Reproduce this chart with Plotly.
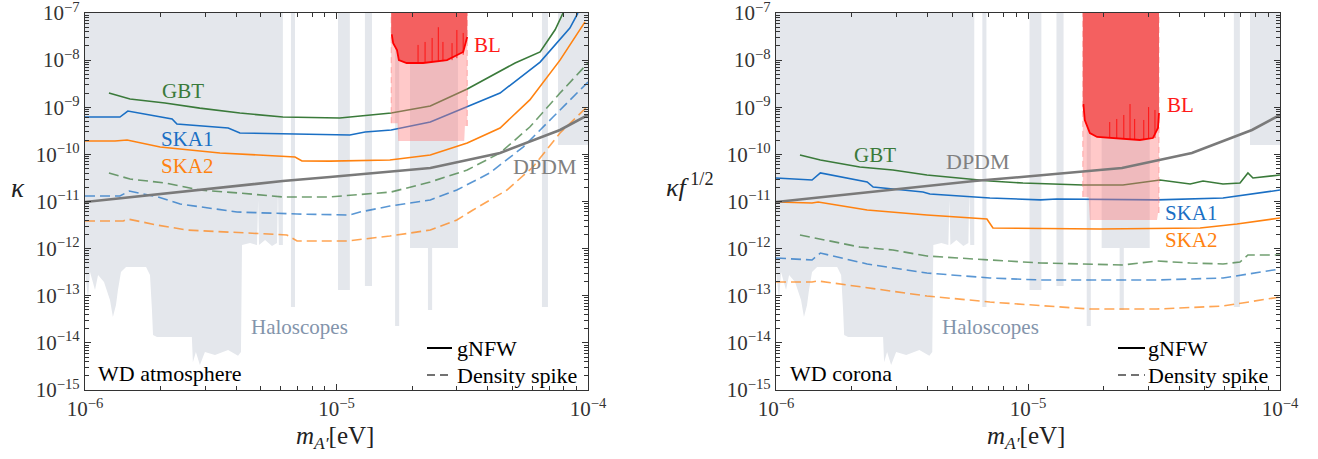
import plotly.graph_objects as go

W, H = 1318, 459
Y_TOP = 1e-7

# ---------------- data: left panel (WD atmosphere) ----------------
gbt_L_x = [1.245e-6, 1.51e-6, 2.08e-6, 2.86e-6, 4.13e-6, 6.12e-6, 1.03e-5, 1.65e-5, 2.36e-5, 3.31e-5, 5.13e-5, 6.45e-5, 7.4e-5, 7.96e-5]
gbt_L_y = [2.0e-9, 1.5e-9, 1.23e-9, 9.6e-10, 7.55e-10, 6.2e-10, 5.9e-10, 7.55e-10, 1.06e-9, 2.44e-9, 8.7e-9, 1.49e-8, 4.4e-8, 1.0e-7]
ska1_L_x = [1.0e-6, 1.377e-6, 1.48e-6, 2.22e-6, 2.32e-6, 3.71e-6, 4.13e-6, 9.42e-6, 1.13e-5, 1.3e-5, 1.65e-5, 2.36e-5, 3.31e-5, 4.47e-5, 6.45e-5, 8.47e-5, 9.12e-5]
ska1_L_y = [6.2e-10, 6.2e-10, 8.3e-10, 5.64e-10, 4.42e-10, 3.63e-10, 2.84e-10, 2.58e-10, 2.58e-10, 2.98e-10, 3.29e-10, 4.86e-10, 1.01e-9, 2.0e-9, 9.1e-9, 4.8e-8, 1.0e-7]
ska2_L_x = [1.0e-6, 1.316e-6, 1.47e-6, 1.99e-6, 3.44e-6, 6.84e-6, 7.29e-6, 9.42e-6, 1.63e-5, 2.36e-5, 3.31e-5, 4.47e-5, 5.87e-5, 7.74e-5, 9.73e-5]
ska2_L_y = [1.92e-10, 1.92e-10, 2.02e-10, 1.43e-10, 1.07e-10, 8.8e-11, 7.24e-11, 7.2e-11, 7.6e-11, 9.7e-11, 1.74e-10, 3.63e-10, 1.43e-9, 1.0e-8, 6.5e-8]
gbt_sp_L_x = [1.245e-6, 1.51e-6, 2.08e-6, 2.86e-6, 4.13e-6, 6.12e-6, 9.42e-6, 1.65e-5, 2.36e-5, 3.31e-5, 4.47e-5, 5.87e-5, 7.74e-5, 1.0e-4]
gbt_sp_L_y = [4.03e-11, 3.0e-11, 2.47e-11, 1.75e-11, 1.51e-11, 1.25e-11, 1.25e-11, 1.59e-11, 2.6e-11, 4.66e-11, 1.07e-10, 3.81e-10, 2.0e-9, 8.7e-9]
ska1_sp_L_x = [1.0e-6, 1.377e-6, 1.5e-6, 1.95e-6, 2.39e-6, 4.02e-6, 6.97e-6, 1.13e-5, 1.24e-5, 1.63e-5, 2.36e-5, 3.01e-5, 4.07e-5, 5.52e-5, 7.26e-5, 1.0e-4]
ska1_sp_L_y = [1.31e-11, 1.31e-11, 1.67e-11, 1.25e-11, 8.85e-12, 5.98e-12, 5.43e-12, 5.17e-12, 5.98e-12, 8.0e-12, 1.08e-11, 1.75e-11, 4.03e-11, 1.43e-10, 6.2e-10, 3.43e-9]
ska2_sp_L_x = [1.0e-6, 1.42e-6, 1.48e-6, 1.93e-6, 2.55e-6, 4.13e-6, 6.35e-6, 6.97e-6, 1.1e-5, 1.63e-5, 2.36e-5, 3.01e-5, 3.49e-5, 4.76e-5, 6.04e-5, 7.74e-5, 9.9e-5]
ska2_sp_L_y = [3.85e-12, 3.85e-12, 4.25e-12, 3.17e-12, 2.48e-12, 2.15e-12, 1.95e-12, 1.45e-12, 1.45e-12, 1.85e-12, 2.48e-12, 4.05e-12, 6.6e-12, 1.75e-11, 5.4e-11, 2.84e-10, 1.01e-9]

# DPDM (same in both panels)
dpdm_x = [1.0e-6, 6.12e-6, 9.42e-6, 2.36e-5, 4.47e-5, 7.74e-5, 1.0e-4]
dpdm_y = [9.75e-12, 2.72e-11, 3.31e-11, 5.14e-11, 1.07e-10, 3.29e-10, 6.85e-10]

# BL (left)
bl_L_x = [1.65e-5, 1.66e-5, 1.68e-5, 1.74e-5, 1.77e-5, 1.9e-5, 2.21e-5, 2.75e-5, 3.19e-5, 3.31e-5]
bl_L_y = [3.4e-8, 3.4e-8, 2.3e-8, 1.64e-8, 1.0e-8, 8.7e-9, 8.7e-9, 1.0e-8, 1.49e-8, 3.1e-8]
bl_pink_L_x = [1.65e-5, 1.75e-5, 1.76e-5, 3.22e-5, 3.24e-5, 3.31e-5]
bl_pink_L_y = [4.6e-10, 4.6e-10, 1.92e-10, 1.92e-10, 4.0e-10, 4.0e-10]
bl_spike_x = [2.11e-5, 2.25e-5, 2.4e-5, 2.54e-5, 2.65e-5, 2.88e-5, 3.01e-5, 3.19e-5]
bl_spike_L_base = [8.7e-9, 8.7e-9, 9.1e-9, 9.1e-9, 9.5e-9, 1.0e-8, 1.1e-8, 1.3e-8]
bl_spike_L_top = [2.1e-8, 2.43e-8, 2.95e-8, 5.0e-8, 2.43e-8, 2.3e-8, 4.36e-8, 3.77e-8]

# ---------------- data: right panel (WD corona) ----------------
gbt_R_x = [1.245e-6, 1.5e-6, 2.15e-6, 2.91e-6, 3.97e-6, 5.37e-6, 7.06e-6, 9.55e-6, 1.65e-5, 2.38e-5, 3.34e-5, 4.4e-5, 4.95e-5, 5.94e-5, 6.94e-5, 7.46e-5, 7.81e-5, 1.0e-4]
gbt_R_y = [9.7e-11, 7.6e-11, 5.4e-11, 4.66e-11, 3.65e-11, 3.15e-11, 2.72e-11, 2.47e-11, 2.24e-11, 2.24e-11, 2.86e-11, 2.35e-11, 2.72e-11, 2.35e-11, 2.47e-11, 4.03e-11, 3.15e-11, 3.65e-11]
ska1_R_x = [1.0e-6, 1.39e-6, 1.5e-6, 2.3e-6, 2.43e-6, 3.83e-6, 4.08e-6, 7.06e-6, 1.12e-5, 1.3e-5, 3.25e-5, 5.94e-5, 1.0e-4]
ska1_R_y = [3.15e-11, 2.86e-11, 4.03e-11, 2.6e-11, 2.03e-11, 1.59e-11, 1.44e-11, 1.19e-11, 1.08e-11, 1.13e-11, 1.08e-11, 1.19e-11, 1.75e-11]
ska2_R_x = [1.0e-6, 1.39e-6, 1.47e-6, 2.3e-6, 3.97e-6, 6.87e-6, 7.26e-6, 1.93e-5, 4.82e-5, 6.75e-5, 1.0e-4]
ska2_R_y = [9.75e-12, 9.3e-12, 9.75e-12, 6.6e-12, 5.17e-12, 4.25e-12, 2.74e-12, 2.61e-12, 2.74e-12, 3.33e-12, 4.47e-12]
gbt_sp_R_x = [1.245e-6, 1.5e-6, 2.15e-6, 2.91e-6, 3.97e-6, 7.06e-6, 1.12e-5, 2.38e-5, 3.25e-5, 4.4e-5, 5.94e-5, 6.94e-5, 7.46e-5, 1.0e-4]
gbt_sp_R_y = [1.95e-12, 1.6e-12, 1.08e-12, 9.35e-13, 6.97e-13, 5.74e-13, 4.96e-13, 4.5e-13, 5.46e-13, 4.96e-13, 4.72e-13, 5.2e-13, 7.33e-13, 7.33e-13]
ska1_sp_R_x = [1.0e-6, 1.39e-6, 1.5e-6, 2.3e-6, 3.97e-6, 7.06e-6, 1.12e-5, 3.25e-5, 5.94e-5, 1.0e-4]
ska1_sp_R_y = [6.32e-13, 5.74e-13, 8.07e-13, 4.72e-13, 3.04e-13, 2.38e-13, 2.16e-13, 2.16e-13, 2.38e-13, 3.7e-13]
ska2_sp_R_x = [1.0e-6, 1.39e-6, 1.47e-6, 2.3e-6, 3.97e-6, 7.06e-6, 1.76e-5, 3.25e-5, 5.94e-5, 1.0e-4]
ska2_sp_R_y = [1.96e-13, 1.96e-13, 2.06e-13, 1.46e-13, 9.88e-14, 7.37e-14, 5.23e-14, 5.23e-14, 6.05e-14, 9.4e-14]

bl_R_x = [1.65e-5, 1.66e-5, 1.68e-5, 1.76e-5, 1.88e-5, 2.25e-5, 2.78e-5, 3.13e-5, 3.28e-5, 3.31e-5]
bl_R_y = [1.12e-9, 1.12e-9, 5.36e-10, 2.84e-10, 2.34e-10, 2.22e-10, 2.02e-10, 2.22e-10, 3.63e-10, 7.55e-10]
bl_pink_R_x = [1.65e-5, 1.74e-5, 1.76e-5, 3.25e-5, 3.28e-5, 3.31e-5]
bl_pink_R_y = [1.25e-11, 1.25e-11, 4.05e-12, 4.05e-12, 5.7e-12, 5.7e-12]
bl_spike_R_base = [2.22e-10, 2.22e-10, 2.12e-10, 2.12e-10, 2.02e-10, 2.02e-10, 2.12e-10, 2.22e-10]
bl_spike_R_top = [4.86e-10, 5.64e-10, 6.85e-10, 1.17e-9, 5.64e-10, 5.37e-10, 1.01e-9, 8.75e-10]

# Haloscope exclusion pieces (lower edge; excluded up to the top), same in both panels
halo_A_x = [1.0e-6, 1.028e-6, 1.047e-6, 1.096e-6, 1.127e-6, 1.19e-6, 1.257e-6, 1.291e-6, 1.328e-6, 1.352e-6, 1.39e-6, 1.456e-6, 1.749e-6, 1.813e-6, 1.846e-6, 1.864e-6, 1.932e-6, 2.66e-6, 2.685e-6, 2.76e-6, 2.863e-6, 2.998e-6, 3.287e-6, 3.706e-6, 4.06e-6, 4.17e-6, 4.21e-6, 4.53e-6, 4.83e-6, 4.88e-6, 4.92e-6, 5.2e-6, 5.54e-6, 5.8e-6, 5.85e-6, 5.9e-6, 6.12e-6]
halo_A_y = [3.5e-13, 8.1e-14, 3.2e-13, 1.33e-13, 2.75e-13, 1.96e-13, 8.1e-14, 3.54e-14, 6.4e-14, 1.33e-13, 3.2e-13, 4.07e-13, 4.07e-13, 2.75e-13, 5.0e-14, 1.47e-14, 1.33e-14, 1.33e-14, 3.9e-15, 6.4e-15, 3.4e-15, 6.4e-15, 5.5e-15, 7.1e-15, 5.3e-15, 6.4e-15, 1.19e-12, 1.32e-12, 1.19e-12, 1.08e-11, 1.19e-12, 1.52e-12, 1.14e-12, 1.32e-12, 1.75e-11, 1.19e-12, 1.19e-12]
halo_B_x = [6.59e-6, 6.84e-6]
halo_B_y = [5.8e-14, 5.8e-14]
halo_C_x = [1.014e-5, 1.13e-5]
halo_C_y = [1.33e-13, 1.33e-13]
halo_D_x = [1.297e-5, 1.384e-5]
halo_D_y = [1.61e-13, 1.61e-13]
halo_E_x = [1.71e-5, 1.775e-5]
halo_E_y = [2.28e-14, 2.28e-14]
halo_F_x = [1.96e-5, 2.31e-5, 2.31e-5, 2.4e-5, 2.4e-5, 3.04e-5]
halo_F_y = [1.03e-12, 1.03e-12, 5.0e-14, 5.0e-14, 1.03e-12, 1.03e-12]
halo_G_x = [6.56e-5, 6.93e-5]
halo_G_y = [5.8e-14, 5.8e-14]
halo_H_x = [7.6e-5, 1.0e-4]
halo_H_y = [1.58e-10, 1.58e-10]

halo_pieces = [(halo_A_x, halo_A_y), (halo_B_x, halo_B_y), (halo_C_x, halo_C_y), (halo_D_x, halo_D_y),
               (halo_E_x, halo_E_y), (halo_F_x, halo_F_y), (halo_G_x, halo_G_y), (halo_H_x, halo_H_y)]

# ---------------- styling ----------------
FONT = "Liberation Serif"
C_GBT = "#3a7a3a"
C_SKA1 = "#1a6fc4"
C_SKA2 = "#ff8210"
C_GBT_D = "rgba(58,122,58,0.72)"
C_SKA1_D = "rgba(26,111,196,0.72)"
C_SKA2_D = "rgba(255,130,16,0.72)"
C_HALO = "rgb(228,231,236)"
DASH = "10px,5px"

fig = go.Figure()


def add(tr, panel):
    if panel == 1:
        tr.update(xaxis="x", yaxis="y")
    else:
        tr.update(xaxis="x2", yaxis="y2")
    fig.add_trace(tr)


def halo_trace():
    xs, ys = [], []
    for hx, hy in halo_pieces:
        xs += list(hx) + [hx[-1], hx[0], None]
        ys += list(hy) + [Y_TOP, Y_TOP, None]
    return go.Scatter(x=xs, y=ys, mode="none", fill="toself", fillcolor=C_HALO,
                      hoverinfo="skip", showlegend=False)


def line(x, y, color, dash=None, width=1.6):
    return go.Scatter(x=x, y=y, mode="lines", showlegend=False, hoverinfo="skip",
                      line=dict(color=color, width=width, dash=dash or "solid"))


def bl_traces(bx, by, px_, py_, sb, st):
    out = []
    # pink region
    out.append(go.Scatter(x=list(px_) + [px_[-1], px_[0]], y=list(py_) + [Y_TOP, Y_TOP],
                          mode="none", fill="toself", fillcolor="rgba(255,120,120,0.40)",
                          hoverinfo="skip", showlegend=False))
    out.append(go.Scatter(x=[px_[0], px_[0], None, px_[-1], px_[-1]],
                          y=[py_[0], Y_TOP, None, py_[-1], Y_TOP], mode="lines",
                          line=dict(color="rgba(255,120,120,0.55)", width=1, dash="6px,4px"),
                          hoverinfo="skip", showlegend=False))
    # dark red region
    out.append(go.Scatter(x=list(bx) + [bx[-1], bx[0]], y=list(by) + [Y_TOP, Y_TOP],
                          mode="none", fill="toself", fillcolor="rgb(244,96,96)",
                          hoverinfo="skip", showlegend=False))
    out.append(line(bx, by, "#ff0000", width=1.8))
    sx, sy = [], []
    for xx, b, t in zip(bl_spike_x, sb, st):
        sx += [xx, xx, None]
        sy += [b, t, None]
    out.append(go.Scatter(x=sx, y=sy, mode="lines", line=dict(color="rgba(255,0,0,0.8)", width=1),
                          hoverinfo="skip", showlegend=False))
    return out


for panel in (1, 2):
    add(halo_trace(), panel)

# left
for tr in [line(gbt_sp_L_x, gbt_sp_L_y, C_GBT_D, DASH), line(ska1_sp_L_x, ska1_sp_L_y, C_SKA1_D, DASH),
           line(ska2_sp_L_x, ska2_sp_L_y, C_SKA2_D, DASH),
           line(gbt_L_x, gbt_L_y, C_GBT), line(ska1_L_x, ska1_L_y, C_SKA1), line(ska2_L_x, ska2_L_y, C_SKA2)]:
    add(tr, 1)
for tr in bl_traces(bl_L_x, bl_L_y, bl_pink_L_x, bl_pink_L_y, bl_spike_L_base, bl_spike_L_top):
    add(tr, 1)
add(line(dpdm_x, dpdm_y, "#7a7a7a", width=2.6), 1)

# right
for tr in [line(gbt_sp_R_x, gbt_sp_R_y, C_GBT_D, DASH), line(ska1_sp_R_x, ska1_sp_R_y, C_SKA1_D, DASH),
           line(ska2_sp_R_x, ska2_sp_R_y, C_SKA2_D, DASH),
           line(gbt_R_x, gbt_R_y, C_GBT), line(ska1_R_x, ska1_R_y, C_SKA1), line(ska2_R_x, ska2_R_y, C_SKA2)]:
    add(tr, 2)
for tr in bl_traces(bl_R_x, bl_R_y, bl_pink_R_x, bl_pink_R_y, bl_spike_R_base, bl_spike_R_top):
    add(tr, 2)
add(line(dpdm_x, dpdm_y, "#7a7a7a", width=2.6), 2)

# ---------------- axes ----------------
PLOT_TOP, PLOT_BOT = 13, 390


def PX(x):
    return x / W


def PY(y):
    return (PLOT_BOT - y) / (PLOT_BOT - PLOT_TOP)


x_minor = [m * 10 ** e for e in (-6, -5) for m in range(2, 10)]
y_minor = [m * 10 ** e for e in range(-15, -7) for m in range(2, 10)]
x_major = [1e-6, 1e-5, 1e-4]
x_major_txt = ["10<sup>−6</sup>", "10<sup>−5</sup>", "10<sup>−4</sup>"]
y_major = [10 ** e for e in range(-15, -6)]
y_major_txt = ["10<sup>−%d</sup>" % (-e) for e in range(-15, -6)]

axis_common = dict(type="log", showgrid=False, zeroline=False, showline=True, linecolor="#333",
                   linewidth=1.3, mirror="allticks", ticks="inside", ticklen=6, tickwidth=1.1,
                   tickcolor="#333", automargin=False, ticklabeloverflow="allow",
                   tickfont=dict(family=FONT, size=21, color="#333"))
xax = dict(axis_common, range=[-6, -4], tickmode="array", tickvals=x_major, ticktext=x_major_txt,
           minor=dict(ticks="inside", ticklen=3.5, tickwidth=1, tickcolor="#333", tickvals=x_minor))
yax = dict(axis_common, range=[-15, -7], tickmode="array", tickvals=y_major, ticktext=y_major_txt,
           minor=dict(ticks="inside", ticklen=3.5, tickwidth=1, tickcolor="#333", tickvals=y_minor))

fig.update_layout(
    width=W, height=H, margin=dict(l=0, r=0, t=PLOT_TOP, b=H - PLOT_BOT),
    paper_bgcolor="white", plot_bgcolor="white", showlegend=False,
    xaxis=dict(xax, domain=[85 / W, 588 / W], anchor="y"),
    yaxis=dict(yax, domain=[0, 1], anchor="x"),
    xaxis2=dict(xax, domain=[776 / W, 1280 / W], anchor="y2"),
    yaxis2=dict(yax, domain=[0, 1], anchor="x2"),
)

# ---------------- annotations ----------------
ann = []


def txt(x, y, s, color, size=21, xanchor="center"):
    ann.append(dict(x=PX(x), y=PY(y), xref="paper", yref="paper", text=s, showarrow=False,
                    xanchor=xanchor, yanchor="middle",
                    font=dict(family=FONT, size=size, color=color)))


# left labels
txt(183, 91, "GBT", C_GBT)
txt(187, 139, "SKA1", C_SKA1)
txt(187, 166, "SKA2", C_SKA2)
txt(488, 45, "BL", "#ff1a1a")
txt(545, 167, "DPDM", "#808080", size=22)
txt(299, 327, "Haloscopes", "#8394ab")
txt(96, 373, "WD atmosphere", "black", size=22, xanchor="left")
txt(455, 348, "gNFW", "black", size=22, xanchor="left")
txt(455, 375, "Density spike", "black", size=22, xanchor="left")
# right labels
txt(875, 155, "GBT", C_GBT)
txt(978, 161, "DPDM", "#808080", size=22)
txt(1180, 105, "BL", "#ff1a1a")
txt(1191, 213, "SKA1", C_SKA1)
txt(1191, 240, "SKA2", C_SKA2)
txt(990, 327, "Haloscopes", "#8394ab")
txt(788, 373, "WD corona", "black", size=22, xanchor="left")
txt(1146, 348, "gNFW", "black", size=22, xanchor="left")
txt(1146, 375, "Density spike", "black", size=22, xanchor="left")
# axis titles
txt(18, 188, "<i>κ</i>", "#222", size=27)
txt(690, 185, "<i>κf</i><sup> 1/2</sup>", "#222", size=26)
txt(335, 437, "<i>m</i><sub><i>A′</i></sub>[eV]", "#222", size=25)
txt(1026, 437, "<i>m</i><sub><i>A′</i></sub>[eV]", "#222", size=25)
fig.update_layout(annotations=ann)

# legend samples
shapes = []
for x0, x1 in ((427, 452), (1118, 1145)):
    shapes.append(dict(type="line", xref="paper", yref="paper", x0=PX(x0), x1=PX(x1), y0=PY(348), y1=PY(348),
                       line=dict(color="black", width=2)))
    shapes.append(dict(type="line", xref="paper", yref="paper", x0=PX(x0), x1=PX(x1), y0=PY(375), y1=PY(375),
                       line=dict(color="#444", width=1.3, dash="8px,5px")))
fig.update_layout(shapes=shapes)

fig.write_html("out.html")
